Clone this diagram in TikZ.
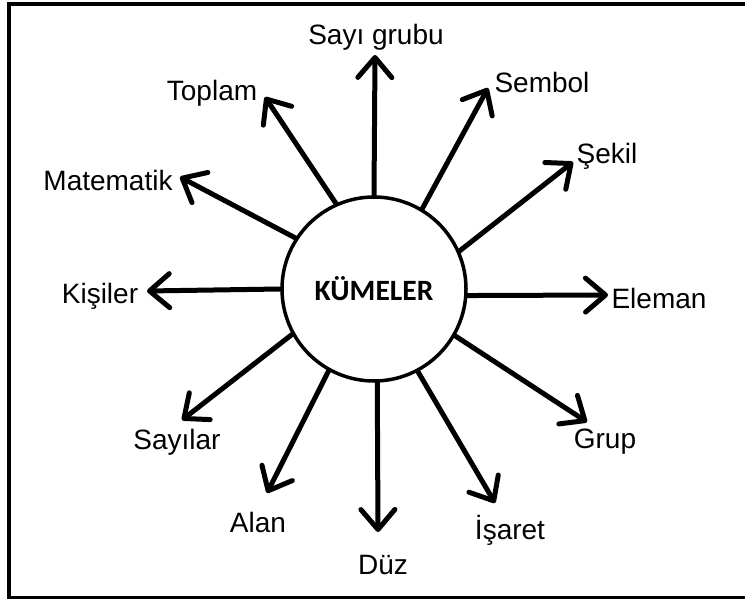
\documentclass[tikz,border=0pt]{standalone}
\usepackage{fontspec}
\setmainfont{Liberation Sans}
\newfontfamily\titlefont{Carlito}
\usetikzlibrary{arrows.meta}

\tikzset{
  spoke/.style={line width=5bp, line cap=round,
    -{Straight Barb[length=20bp, width=34bp, line cap=round, line join=round]}},
  lbl/.style={inner sep=0pt, font=\fontsize{28bp}{32bp}\selectfont},
  hub/.style={circle, draw, line width=3.5bp, minimum size=184bp, inner sep=0pt,
    font=\titlefont\bfseries\fontsize{29.5bp}{34bp}\selectfont},
}

\begin{document}
\begin{tikzpicture}[x=1bp, y=-1bp]
  \useasboundingbox (0,0) rectangle (745,599);
  % open frame: top, left and bottom edges
  \draw[line width=4bp] (745,4.5) -- (8.5,4.5) -- (8.5,597.5) -- (745,597.5);

  \node[hub] (kume) at (374,289) {KÜMELER};

  % arrow tips
  \coordinate (tSayigrubu) at (375,55);
  \coordinate (tToplam)    at (265,97);
  \coordinate (tMatematik) at (180,177);
  \coordinate (tKisiler)   at (147,291);
  \coordinate (tSayilar)   at (182,420);
  \coordinate (tAlan)      at (267,493);
  \coordinate (tDuz)       at (378,532);
  \coordinate (tIsaret)    at (495,503);
  \coordinate (tGrup)      at (587,422);
  \coordinate (tEleman)    at (608,295);
  \coordinate (tSekil)     at (573,162);
  \coordinate (tSembol)    at (488,88);

  % labels
  \node[lbl] (lSayigrubu) at (376,37)  {Sayı grubu};
  \node[lbl] (lToplam)    at (212,93)  {Toplam};
  \node[lbl] (lMatematik) at (108,180) {Matematik};
  \node[lbl] (lKisiler)   at (100,296) {Kişiler};
  \node[lbl] (lSayilar)   at (177,442) {Sayılar};
  \node[lbl] (lAlan)      at (258,522) {Alan};
  \node[lbl] (lDuz)       at (383,565) {Düz};
  \node[lbl] (lIsaret)    at (510,530) {İşaret};
  \node[lbl] (lGrup)      at (605,442) {Grup};
  \node[lbl] (lEleman)    at (659,298) {Eleman};
  \node[lbl] (lSekil)     at (607,156) {Şekil};
  \node[lbl] (lSembol)    at (542,82)  {Sembol};

  % spokes from the hub
  \draw[spoke] (kume.90)    -- (tSayigrubu);
  \draw[spoke] (kume.114.7) -- (tToplam);
  \draw[spoke] (kume.147)   -- (tMatematik);
  \draw[spoke] (kume.180)   -- (tKisiler);
  \draw[spoke] (kume.209.7) -- (tSayilar);
  \draw[spoke] (kume.241.9) -- (tAlan);
  \draw[spoke] (kume.272.4) -- (tDuz);
  \draw[spoke] (kume.298.1) -- (tIsaret);
  \draw[spoke] (kume.330.4) -- (tGrup);
  \draw[spoke] (kume.356)   -- (tEleman);
  \draw[spoke] (kume.24.9)  -- (tSekil);
  \draw[spoke] (kume.59.7)  -- (tSembol);
\end{tikzpicture}
\end{document}
